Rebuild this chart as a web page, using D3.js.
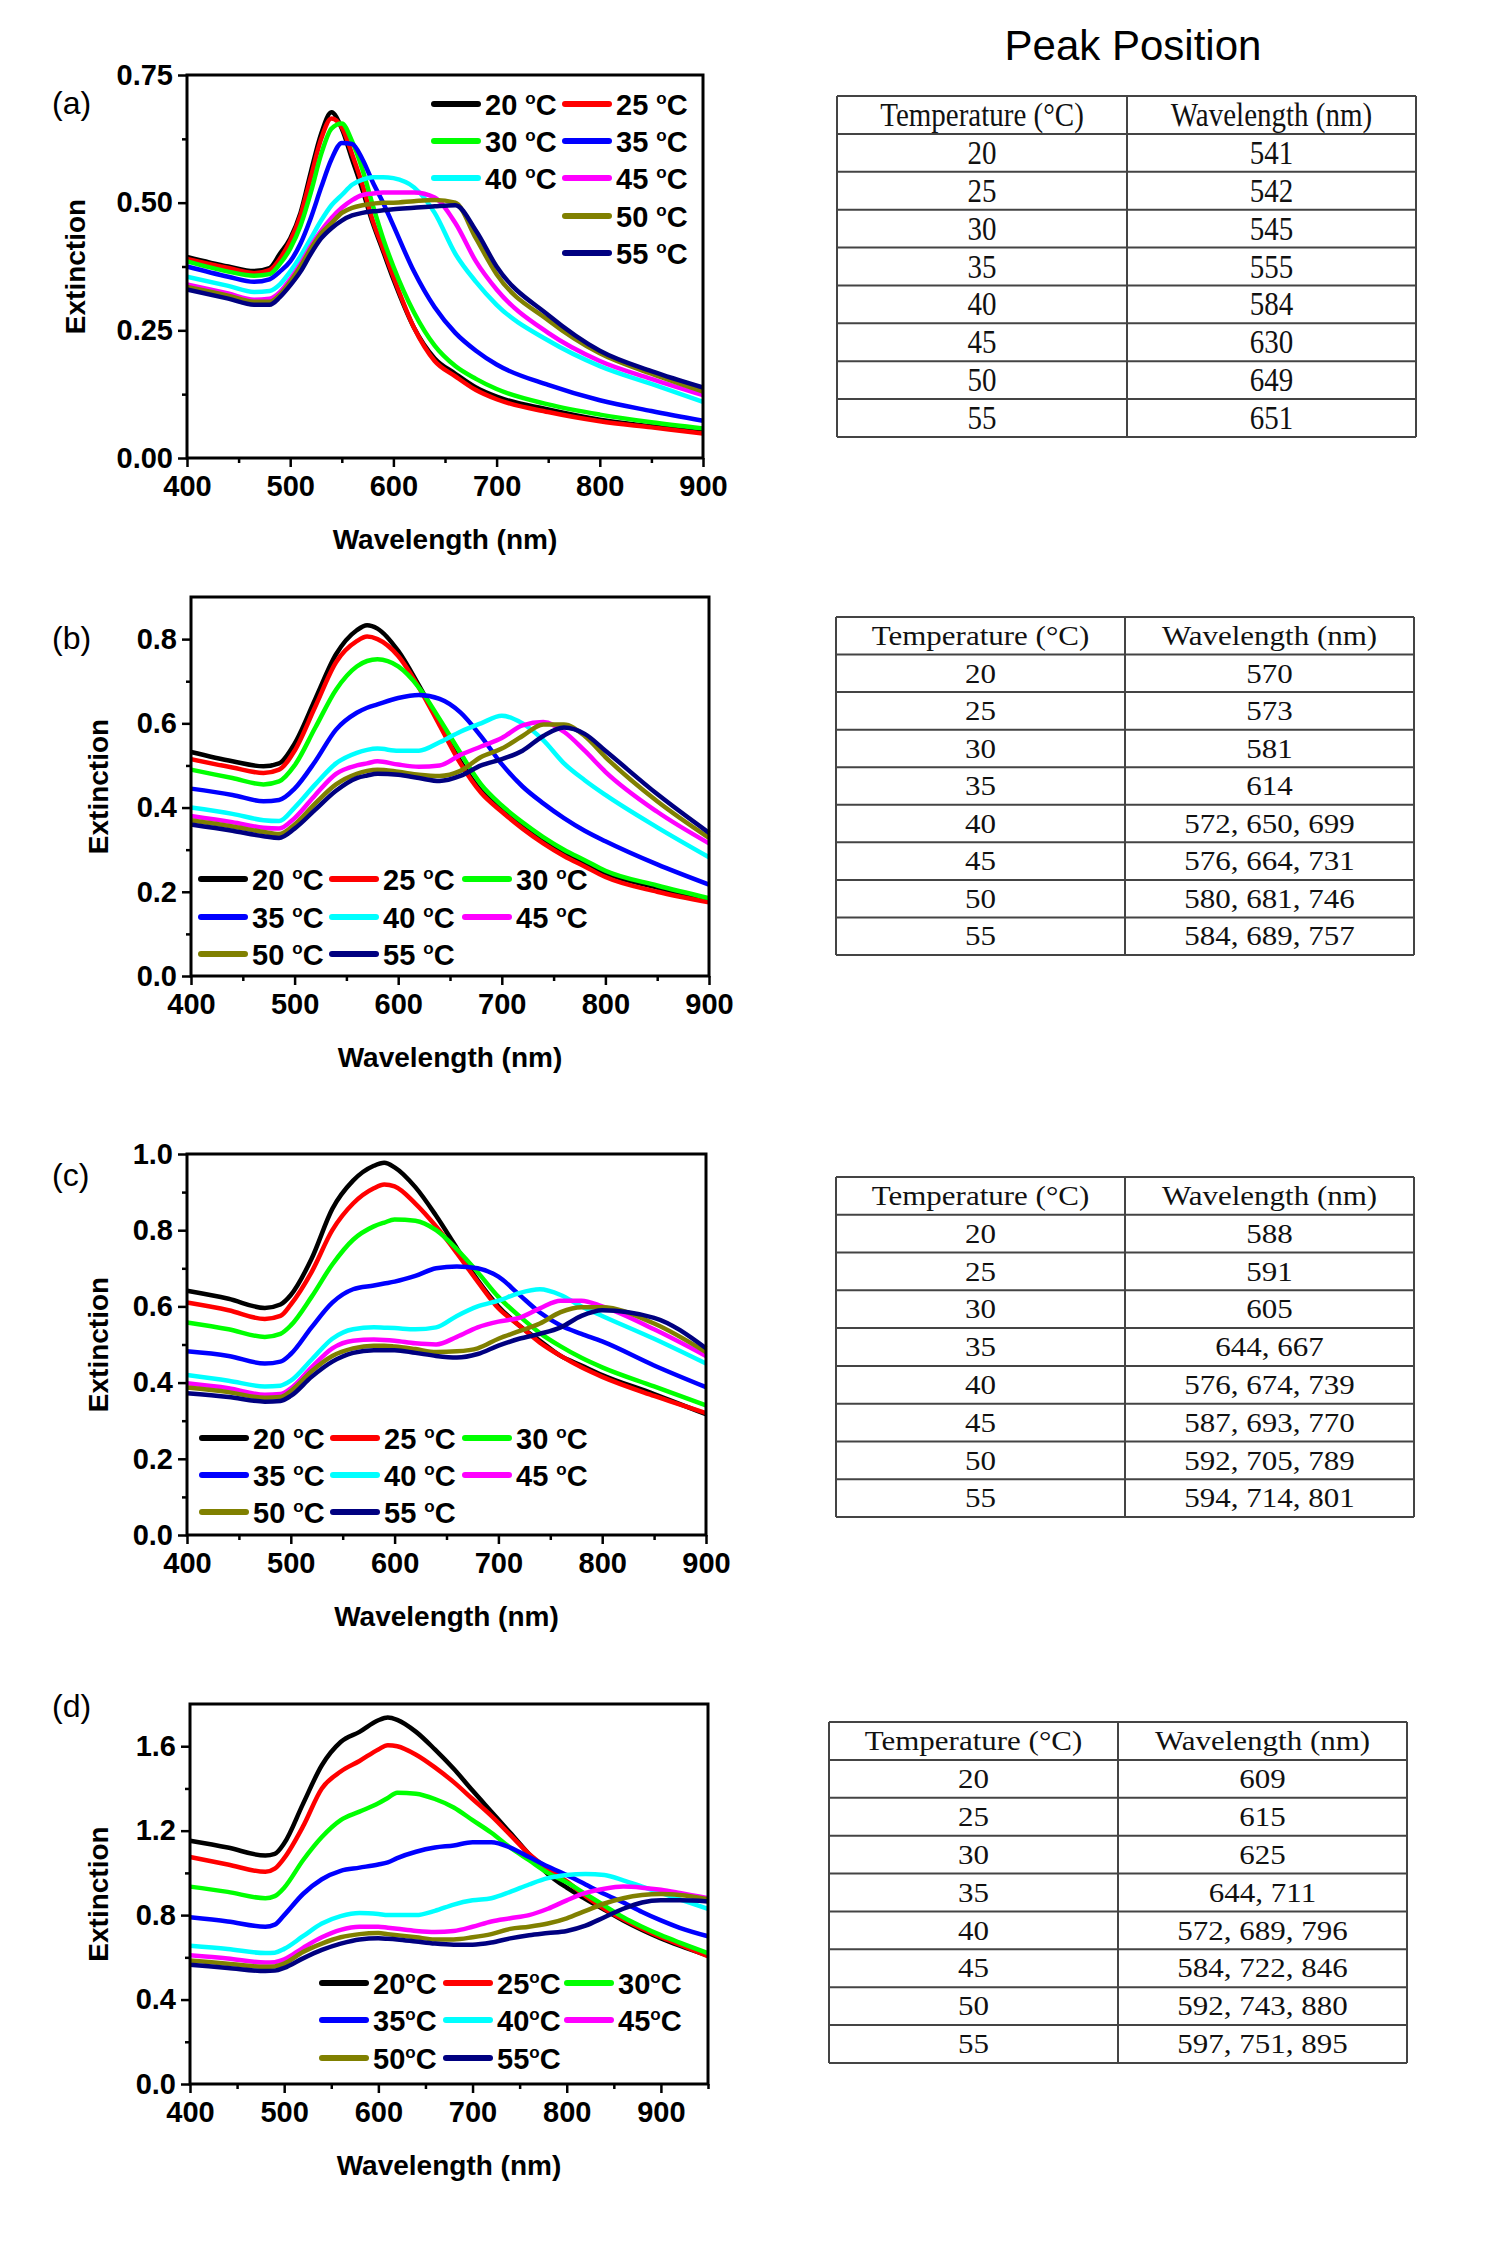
<!doctype html>
<meta charset="utf-8">
<head>
<script src="https://d3js.org/d3.v7.min.js"></script>
<style>
  body { margin: 0; background: #fff; }
</style>
</head>
<body>
<svg width="1500" height="2250" style="font-family: 'Liberation Sans', Arial, sans-serif"></svg>
<script>
// ---- data ----
const temps = [20, 25, 30, 35, 40, 45, 50, 55];
const colors = ["#000000", "#ff0000", "#00ff00", "#0000ff", "#00ffff", "#ff00ff", "#808000", "#000080"];

// (a)
const wlA = [400, 440, 465, 480, 490, 500, 510, 520, 530, 540, 550, 560, 570, 580, 590, 600, 620, 640, 660, 680, 700, 750, 800, 850, 900];
const a20 = [.394, .375, .366, .372, .40, .43, .48, .56, .635, .677, .645, .585, .525, .46, .405, .35, .255, .195, .165, .138, .12, .095, .075, .062, .05];
const a25 = [.39, .372, .362, .368, .39, .425, .475, .55, .625, .665, .648, .595, .535, .465, .41, .355, .255, .19, .16, .133, .115, .09, .072, .06, .048];
const a30 = [.385, .365, .357, .36, .38, .41, .455, .52, .595, .645, .655, .62, .565, .495, .43, .375, .285, .22, .18, .155, .135, .105, .085, .07, .058];
const a35 = [.375, .355, .345, .35, .365, .385, .42, .47, .53, .585, .617, .615, .585, .54, .50, .455, .365, .295, .245, .21, .183, .143, .113, .092, .073];
const a40 = [.355, .337, .325, .327, .34, .365, .395, .43, .465, .495, .515, .535, .545, .55, .55, .548, .53, .48, .40, .345, .30, .23, .18, .145, .11];
const a45 = [.34, .322, .31, .312, .325, .35, .38, .415, .445, .47, .49, .505, .515, .518, .52, .52, .52, .51, .46, .385, .33, .245, .19, .155, .123];
const a50 = [.335, .318, .306, .306, .32, .345, .375, .41, .44, .46, .48, .49, .495, .498, .50, .50, .503, .505, .50, .43, .36, .27, .205, .165, .13];
const a55 = [.33, .312, .30, .30, .315, .338, .365, .40, .43, .45, .465, .475, .48, .483, .485, .487, .49, .493, .495, .445, .375, .28, .21, .17, .138];

// (b)
const wlB = [400, 440, 470, 485, 500, 520, 540, 560, 570, 580, 600, 620, 640, 660, 680, 700, 720, 740, 760, 780, 800, 850, 900];
const b20 = [.532, .51, .498, .505, .552, .658, .764, .821, .833, .825, .772, .69, .60, .51, .44, .398, .36, .325, .295, .27, .245, .21, .18];
const b25 = [.515, .495, .482, .49, .535, .64, .745, .795, .806, .80, .76, .685, .595, .505, .435, .39, .35, .315, .285, .26, .235, .20, .175];
const b30 = [.49, .47, .455, .462, .50, .59, .68, .735, .748, .752, .735, .685, .61, .53, .455, .405, .365, .33, .30, .275, .25, .215, .185];
const b35 = [.445, .43, .415, .418, .445, .51, .585, .625, .637, .645, .66, .667, .658, .626, .569, .503, .45, .41, .375, .345, .32, .265, .217];
const b40 = [.40, .385, .37, .368, .40, .455, .505, .53, .537, .54, .535, .535, .555, .58, .60, .618, .60, .56, .505, .465, .43, .353, .282];
const b45 = [.38, .365, .352, .35, .375, .43, .48, .50, .505, .51, .502, .497, .50, .525, .545, .565, .595, .603, .58, .535, .485, .39, .315];
const b50 = [.37, .355, .342, .337, .36, .41, .455, .48, .487, .49, .485, .478, .475, .487, .52, .54, .57, .597, .597, .57, .52, .415, .328];
const b55 = [.36, .345, .332, .328, .35, .395, .44, .47, .476, .48, .478, .47, .463, .475, .50, .515, .535, .57, .59, .575, .535, .432, .34];

// (c)
const wlC = [400, 440, 475, 490, 500, 520, 540, 560, 580, 590, 600, 620, 640, 660, 680, 700, 720, 740, 760, 780, 800, 850, 900];
const c20 = [.641, .62, .596, .605, .63, .725, .856, .93, .969, .977, .965, .913, .838, .753, .669, .60, .55, .51, .47, .445, .42, .37, .317];
const c25 = [.61, .59, .567, .575, .605, .69, .80, .87, .91, .92, .915, .87, .81, .74, .665, .595, .55, .505, .47, .44, .415, .365, .32];
const c30 = [.558, .54, .52, .528, .55, .625, .71, .775, .81, .82, .828, .825, .80, .75, .69, .625, .575, .53, .495, .465, .44, .39, .34];
const c35 = [.482, .47, .45, .455, .475, .545, .61, .645, .655, .66, .665, .68, .70, .705, .70, .678, .631, .584, .55, .528, .508, .445, .388];
const c40 = [.42, .405, .39, .392, .405, .46, .515, .54, .545, .544, .543, .54, .545, .575, .60, .615, .635, .645, .63, .60, .575, .515, .45];
const c45 = [.398, .385, .368, .37, .385, .44, .49, .51, .513, .512, .51, .503, .50, .52, .545, .56, .57, .595, .615, .615, .60, .54, .47];
const c50 = [.387, .375, .36, .362, .378, .43, .47, .49, .497, .497, .495, .488, .48, .482, .49, .515, .535, .555, .585, .598, .598, .555, .48];
const c55 = [.372, .362, .35, .352, .365, .415, .455, .478, .485, .485, .485, .478, .47, .466, .475, .497, .515, .528, .545, .575, .59, .57, .49];

// (d)
const wlD = [400, 440, 480, 490, 500, 520, 540, 560, 580, 600, 610, 620, 640, 660, 680, 700, 720, 740, 760, 780, 800, 820, 840, 860, 880, 900, 920, 950];
const d20 = [1.152, 1.12, 1.082, 1.09, 1.14, 1.327, 1.51, 1.62, 1.668, 1.723, 1.736, 1.725, 1.668, 1.585, 1.493, 1.39, 1.29, 1.19, 1.088, .995, .93, .876, .825, .775, .73, .69, .655, .608];
const d25 = [1.075, 1.04, 1.005, 1.02, 1.07, 1.22, 1.40, 1.48, 1.53, 1.585, 1.605, 1.60, 1.56, 1.50, 1.43, 1.35, 1.27, 1.18, 1.09, 1.02, .96, .89, .83, .78, .735, .695, .66, .605];
const d30 = [.935, .91, .88, .89, .93, 1.06, 1.17, 1.25, 1.29, 1.33, 1.355, 1.38, 1.375, 1.35, 1.31, 1.25, 1.19, 1.12, 1.06, 1.00, .955, .90, .845, .79, .745, .705, .67, .62];
const d35 = [.79, .77, .745, .755, .80, .90, .97, 1.01, 1.025, 1.04, 1.05, 1.07, 1.10, 1.12, 1.13, 1.145, 1.145, 1.12, 1.075, 1.03, .99, .945, .90, .86, .815, .775, .74, .70];
const d40 = [.655, .64, .62, .622, .64, .70, .76, .795, .81, .805, .80, .80, .80, .82, .85, .87, .88, .91, .945, .975, .99, .995, .99, .965, .935, .905, .875, .83];
const d45 = [.61, .595, .575, .577, .59, .645, .695, .73, .745, .745, .74, .735, .725, .72, .725, .745, .77, .785, .80, .83, .87, .905, .925, .935, .93, .92, .905, .88];
const d50 = [.585, .57, .555, .557, .57, .625, .665, .695, .71, .715, .71, .705, .695, .685, .685, .695, .71, .735, .745, .76, .785, .82, .855, .88, .895, .90, .895, .875];
const d55 = [.565, .55, .535, .537, .55, .595, .635, .665, .685, .69, .688, .685, .675, .665, .66, .66, .67, .69, .705, .715, .725, .75, .79, .83, .86, .87, .87, .865];

// peak tables
const tableHeader = ["Temperature (\u00B0C)", "Wavelength (nm)"];
const peaksA = ["541", "542", "545", "555", "584", "630", "649", "651"];
const peaksB = ["570", "573", "581", "614", "572, 650, 699", "576, 664, 731", "580, 681, 746", "584, 689, 757"];
const peaksC = ["588", "591", "605", "644, 667", "576, 674, 739", "587, 693, 770", "592, 705, 789", "594, 714, 801"];
const peaksD = ["609", "615", "625", "644, 711", "572, 689, 796", "584, 722, 846", "592, 743, 880", "597, 751, 895"];

// ---- layout ----
const svg = d3.select("svg");
const FONT = "'Liberation Sans', Arial, sans-serif";
const SERIF = "'Liberation Serif', 'Times New Roman', serif";

const panels = [
  { tag: "(a)", wl: wlA, series: [a20, a25, a30, a35, a40, a45, a50, a55],
    left: 187, right: 703, top: 75, bottom: 458,
    xDomain: [400, 900], xTicks: [400, 500, 600, 700, 800, 900], xMinor: [450, 550, 650, 750, 850],
    yDomain: [0, 0.75], yTicks: [0, .25, .5, .75], yMinor: [.125, .375, .625], yFmt: ".2f",
    tagY: 114, ylabX: 85,
    legCols: [434, 565], legRows: [104, 141, 178, 216, 253],
    legPos: [[0,0],[1,0],[0,1],[1,1],[0,2],[1,2],[1,3],[1,4]], legSpace: true },
  { tag: "(b)", wl: wlB, series: [b20, b25, b30, b35, b40, b45, b50, b55],
    left: 191, right: 709, top: 597, bottom: 976,
    xDomain: [400, 900], xTicks: [400, 500, 600, 700, 800, 900], xMinor: [450, 550, 650, 750, 850],
    yDomain: [0, 0.9], yTicks: [0, .2, .4, .6, .8], yMinor: [.1, .3, .5, .7], yFmt: ".1f",
    tagY: 649, ylabX: 108,
    legCols: [201, 332, 465], legRows: [879, 917, 954],
    legPos: [[0,0],[1,0],[2,0],[0,1],[1,1],[2,1],[0,2],[1,2]], legSpace: true },
  { tag: "(c)", wl: wlC, series: [c20, c25, c30, c35, c40, c45, c50, c55],
    left: 187, right: 706, top: 1154, bottom: 1535,
    xDomain: [400, 900], xTicks: [400, 500, 600, 700, 800, 900], xMinor: [450, 550, 650, 750, 850],
    yDomain: [0, 1.0], yTicks: [0, .2, .4, .6, .8, 1.0], yMinor: [.1, .3, .5, .7, .9], yFmt: ".1f",
    tagY: 1186, ylabX: 108,
    legCols: [202, 333, 465], legRows: [1438, 1475, 1512],
    legPos: [[0,0],[1,0],[2,0],[0,1],[1,1],[2,1],[0,2],[1,2]], legSpace: true },
  { tag: "(d)", wl: wlD, series: [d20, d25, d30, d35, d40, d45, d50, d55],
    left: 190, right: 708, top: 1704, bottom: 2084,
    xDomain: [400, 950], xTicks: [400, 500, 600, 700, 800, 900], xMinor: [450, 550, 650, 750, 850, 950],
    yDomain: [0, 1.8], yTicks: [0, .4, .8, 1.2, 1.6], yMinor: [.2, .6, 1.0, 1.4], yFmt: ".1f",
    tagY: 1717, ylabX: 108,
    legCols: [322, 446, 567], legRows: [1983, 2020, 2058],
    legPos: [[0,0],[1,0],[2,0],[0,1],[1,1],[2,1],[0,2],[1,2]], legSpace: false }
];

panels.forEach(p => {
  const g = svg.append("g");
  const x = d3.scaleLinear().domain(p.xDomain).range([p.left, p.right]);
  const y = d3.scaleLinear().domain(p.yDomain).range([p.bottom, p.top]);

  const line = d3.line()
    .x((d, i) => x(p.wl[i]))
    .y(d => y(d))
    .curve(d3.curveMonotoneX);

  p.series.forEach((s, i) => {
    g.append("path")
      .attr("d", line(s))
      .attr("fill", "none")
      .attr("stroke", colors[i])
      .attr("stroke-width", 4.5)
      .attr("stroke-linejoin", "round");
  });

  // axes
  g.append("g").attr("transform", `translate(0,${p.bottom})`)
    .call(d3.axisBottom(x).tickValues(p.xTicks).tickFormat(d3.format("d"))
      .tickSize(9).tickSizeOuter(0).tickPadding(8));
  g.append("g").attr("transform", `translate(0,${p.bottom})`)
    .call(d3.axisBottom(x).tickValues(p.xMinor).tickFormat("").tickSize(5).tickSizeOuter(0));
  g.append("g").attr("transform", `translate(${p.left},0)`)
    .call(d3.axisLeft(y).tickValues(p.yTicks).tickFormat(d3.format(p.yFmt))
      .tickSize(9).tickSizeOuter(0).tickPadding(5));
  g.append("g").attr("transform", `translate(${p.left},0)`)
    .call(d3.axisLeft(y).tickValues(p.yMinor).tickFormat("").tickSize(5).tickSizeOuter(0));

  g.selectAll(".domain").remove();
  g.selectAll(".tick line").attr("stroke", "#000").attr("stroke-width", 2.5);
  g.selectAll(".tick text")
    .attr("font-family", FONT).attr("font-size", 29).attr("font-weight", "bold").attr("fill", "#000");

  g.append("rect")
    .attr("x", p.left).attr("y", p.top)
    .attr("width", p.right - p.left).attr("height", p.bottom - p.top)
    .attr("fill", "none").attr("stroke", "#000").attr("stroke-width", 3);

  // titles
  g.append("text")
    .attr("x", (p.left + p.right) / 2).attr("y", p.bottom + 91)
    .attr("text-anchor", "middle")
    .attr("font-size", 28).attr("font-weight", "bold")
    .text("Wavelength (nm)");
  g.append("text")
    .attr("transform", `translate(${p.ylabX},${(p.top + p.bottom) / 2}) rotate(-90)`)
    .attr("text-anchor", "middle")
    .attr("font-size", 28).attr("font-weight", "bold")
    .text("Extinction");
  g.append("text")
    .attr("x", 52).attr("y", p.tagY)
    .attr("font-size", 32)
    .text(p.tag);

  // legend
  temps.forEach((t, i) => {
    const [c, r] = p.legPos[i];
    const lx = p.legCols[c], ly = p.legRows[r];
    g.append("line")
      .attr("x1", lx).attr("x2", lx + 44).attr("y1", ly).attr("y2", ly)
      .attr("stroke", colors[i]).attr("stroke-width", 6).attr("stroke-linecap", "round");
    const tx = g.append("text")
      .attr("x", lx + 51).attr("y", ly + 10.5)
      .attr("font-size", 29).attr("font-weight", "bold");
    tx.append("tspan").text(t + (p.legSpace ? " " : ""));
    tx.append("tspan").attr("font-size", 17).attr("dy", -11).text("o");
    tx.append("tspan").attr("dy", 11).text("C");
  });
});

// ---- peak tables ----
svg.append("text")
  .attr("x", 1133).attr("y", 60)
  .attr("text-anchor", "middle")
  .attr("font-size", 42)
  .text("Peak Position");

const tables = [
  { rows: peaksA, x0: 837, x1: 1416, xd: 1127, y0: 96, y1: 437, fs: 29, sy: 1.15 },
  { rows: peaksB, x0: 836, x1: 1414, xd: 1125, y0: 617, y1: 955, fs: 31, sy: 0.9 },
  { rows: peaksC, x0: 836, x1: 1414, xd: 1125, y0: 1177, y1: 1517, fs: 31, sy: 0.9 },
  { rows: peaksD, x0: 829, x1: 1407, xd: 1118, y0: 1722, y1: 2063, fs: 31, sy: 0.9 }
];

tables.forEach(tb => {
  const g = svg.append("g");
  const cells = [tableHeader].concat(temps.map((t, i) => [String(t), tb.rows[i]]));
  const ry = d3.scaleLinear().domain([0, cells.length]).range([tb.y0, tb.y1]);
  const cx = [(tb.x0 + tb.xd) / 2, (tb.xd + tb.x1) / 2];

  d3.range(cells.length + 1).forEach(k => {
    g.append("line")
      .attr("x1", tb.x0).attr("x2", tb.x1).attr("y1", ry(k)).attr("y2", ry(k))
      .attr("stroke", "#444").attr("stroke-width", 2);
  });
  [tb.x0, tb.xd, tb.x1].forEach(xv => {
    g.append("line")
      .attr("x1", xv).attr("x2", xv).attr("y1", tb.y0).attr("y2", tb.y1)
      .attr("stroke", "#444").attr("stroke-width", 2);
  });

  cells.forEach((row, k) => {
    const mid = (ry(k) + ry(k + 1)) / 2;
    row.forEach((v, j) => {
      g.append("text")
        .attr("transform", `translate(${cx[j]},${mid + tb.fs * 0.33 * tb.sy}) scale(1,${tb.sy})`)
        .attr("text-anchor", "middle")
        .style("font-family", SERIF)
        .attr("font-size", tb.fs)
        .attr("fill", "#111")
        .text(v);
    });
  });
});
</script>
</body>
